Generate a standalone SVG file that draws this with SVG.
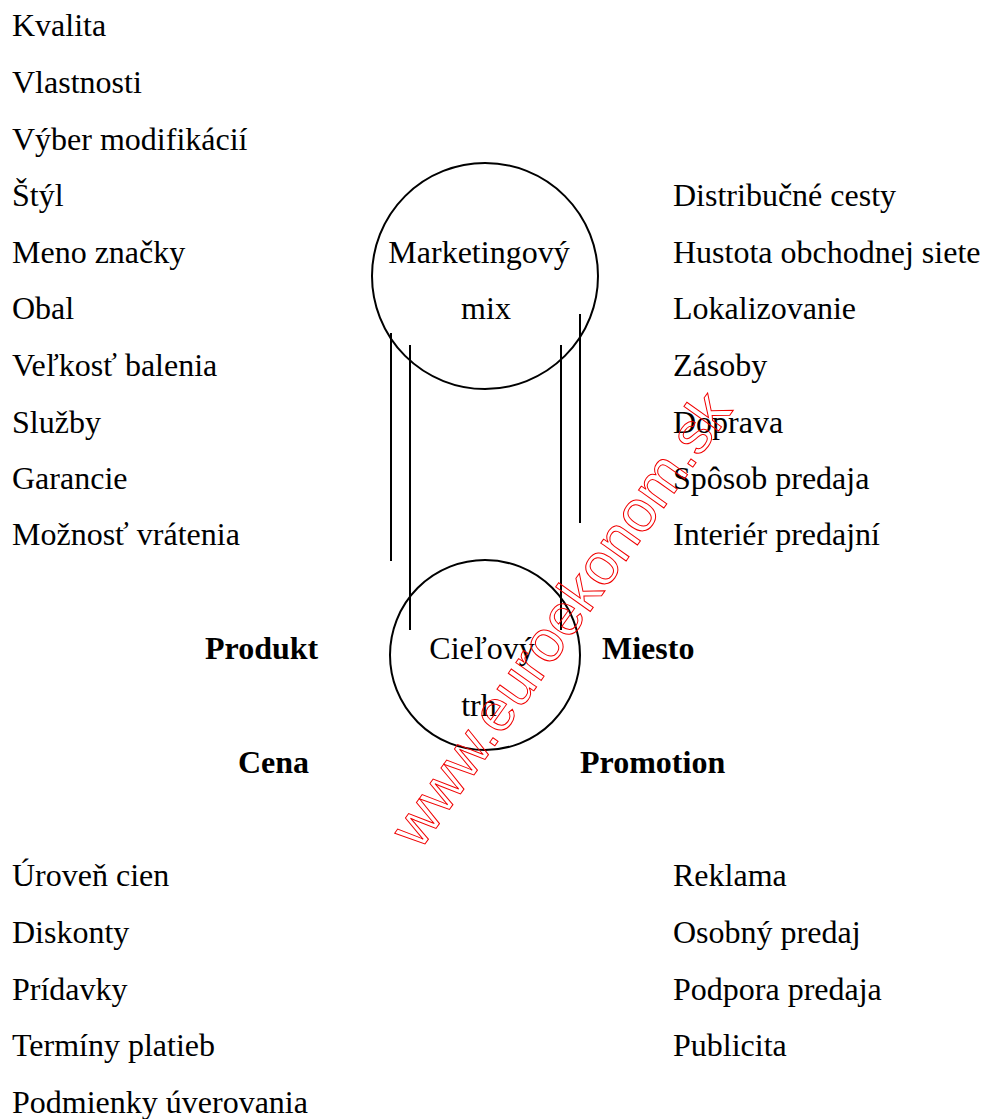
<svg xmlns="http://www.w3.org/2000/svg" width="984" height="1119" viewBox="0 0 984 1119">
<style>
text{font-family:"Liberation Serif","Times New Roman",serif;font-size:32px;fill:#000}
.b{font-weight:bold}
.s{fill:none;stroke:#000;stroke-width:2}
text.w{font-family:"Liberation Sans",Arial,sans-serif;font-size:58.6px;fill:none;stroke:#f00000;stroke-width:1}
</style>
<rect width="984" height="1119" fill="#fff"/>
<g id="connectors">
<line class="s" x1="391" y1="333" x2="391" y2="561"/>
<line class="s" x1="410" y1="345" x2="410" y2="630"/>
<line class="s" x1="561" y1="345" x2="561" y2="630"/>
<line class="s" x1="580" y1="314" x2="580" y2="523"/>
</g>
<g id="marketing-mix"><ellipse class="s" cx="485" cy="276" rx="113" ry="113"/>
<text x="479" y="263" text-anchor="middle">Marketingový</text><text x="486" y="319" text-anchor="middle">mix</text></g>
<g id="target-market"><ellipse class="s" cx="485" cy="655" rx="95" ry="95"/>
<text x="482" y="659" text-anchor="middle">Cieľový</text><text x="479" y="716" text-anchor="middle">trh</text></g>
<g id="produkt"><text class="b" x="205" y="659">Produkt</text>
<text x="12" y="36">Kvalita</text><text x="12" y="93">Vlastnosti</text><text x="12" y="150">Výber modifikácií</text><text x="12" y="206">Štýl</text><text x="12" y="263">Meno značky</text><text x="12" y="319">Obal</text><text x="12" y="376">Veľkosť balenia</text><text x="12" y="433">Služby</text><text x="12" y="489">Garancie</text><text x="12" y="545">Možnosť vrátenia</text></g>
<g id="miesto"><text class="b" x="602" y="659">Miesto</text>
<text x="673" y="206">Distribučné cesty</text><text x="673" y="263">Hustota obchodnej siete</text><text x="673" y="319">Lokalizovanie</text><text x="673" y="376">Zásoby</text><text x="673" y="433">Doprava</text><text x="673" y="489">Spôsob predaja</text><text x="673" y="545">Interiér predajní</text></g>
<g id="cena"><text class="b" x="238" y="773">Cena</text>
<text x="12" y="886">Úroveň cien</text><text x="12" y="943">Diskonty</text><text x="12" y="1000">Prídavky</text><text x="12" y="1056">Termíny platieb</text><text x="12" y="1113">Podmienky úverovania</text></g>
<g id="promotion"><text class="b" x="580" y="773">Promotion</text>
<text x="673" y="886">Reklama</text><text x="673" y="943">Osobný predaj</text><text x="673" y="1000">Podpora predaja</text><text x="673" y="1056">Publicita</text></g>
<text class="w" transform="translate(420 851) rotate(-54.6)">www.euroekonom.sk</text>
</svg>
